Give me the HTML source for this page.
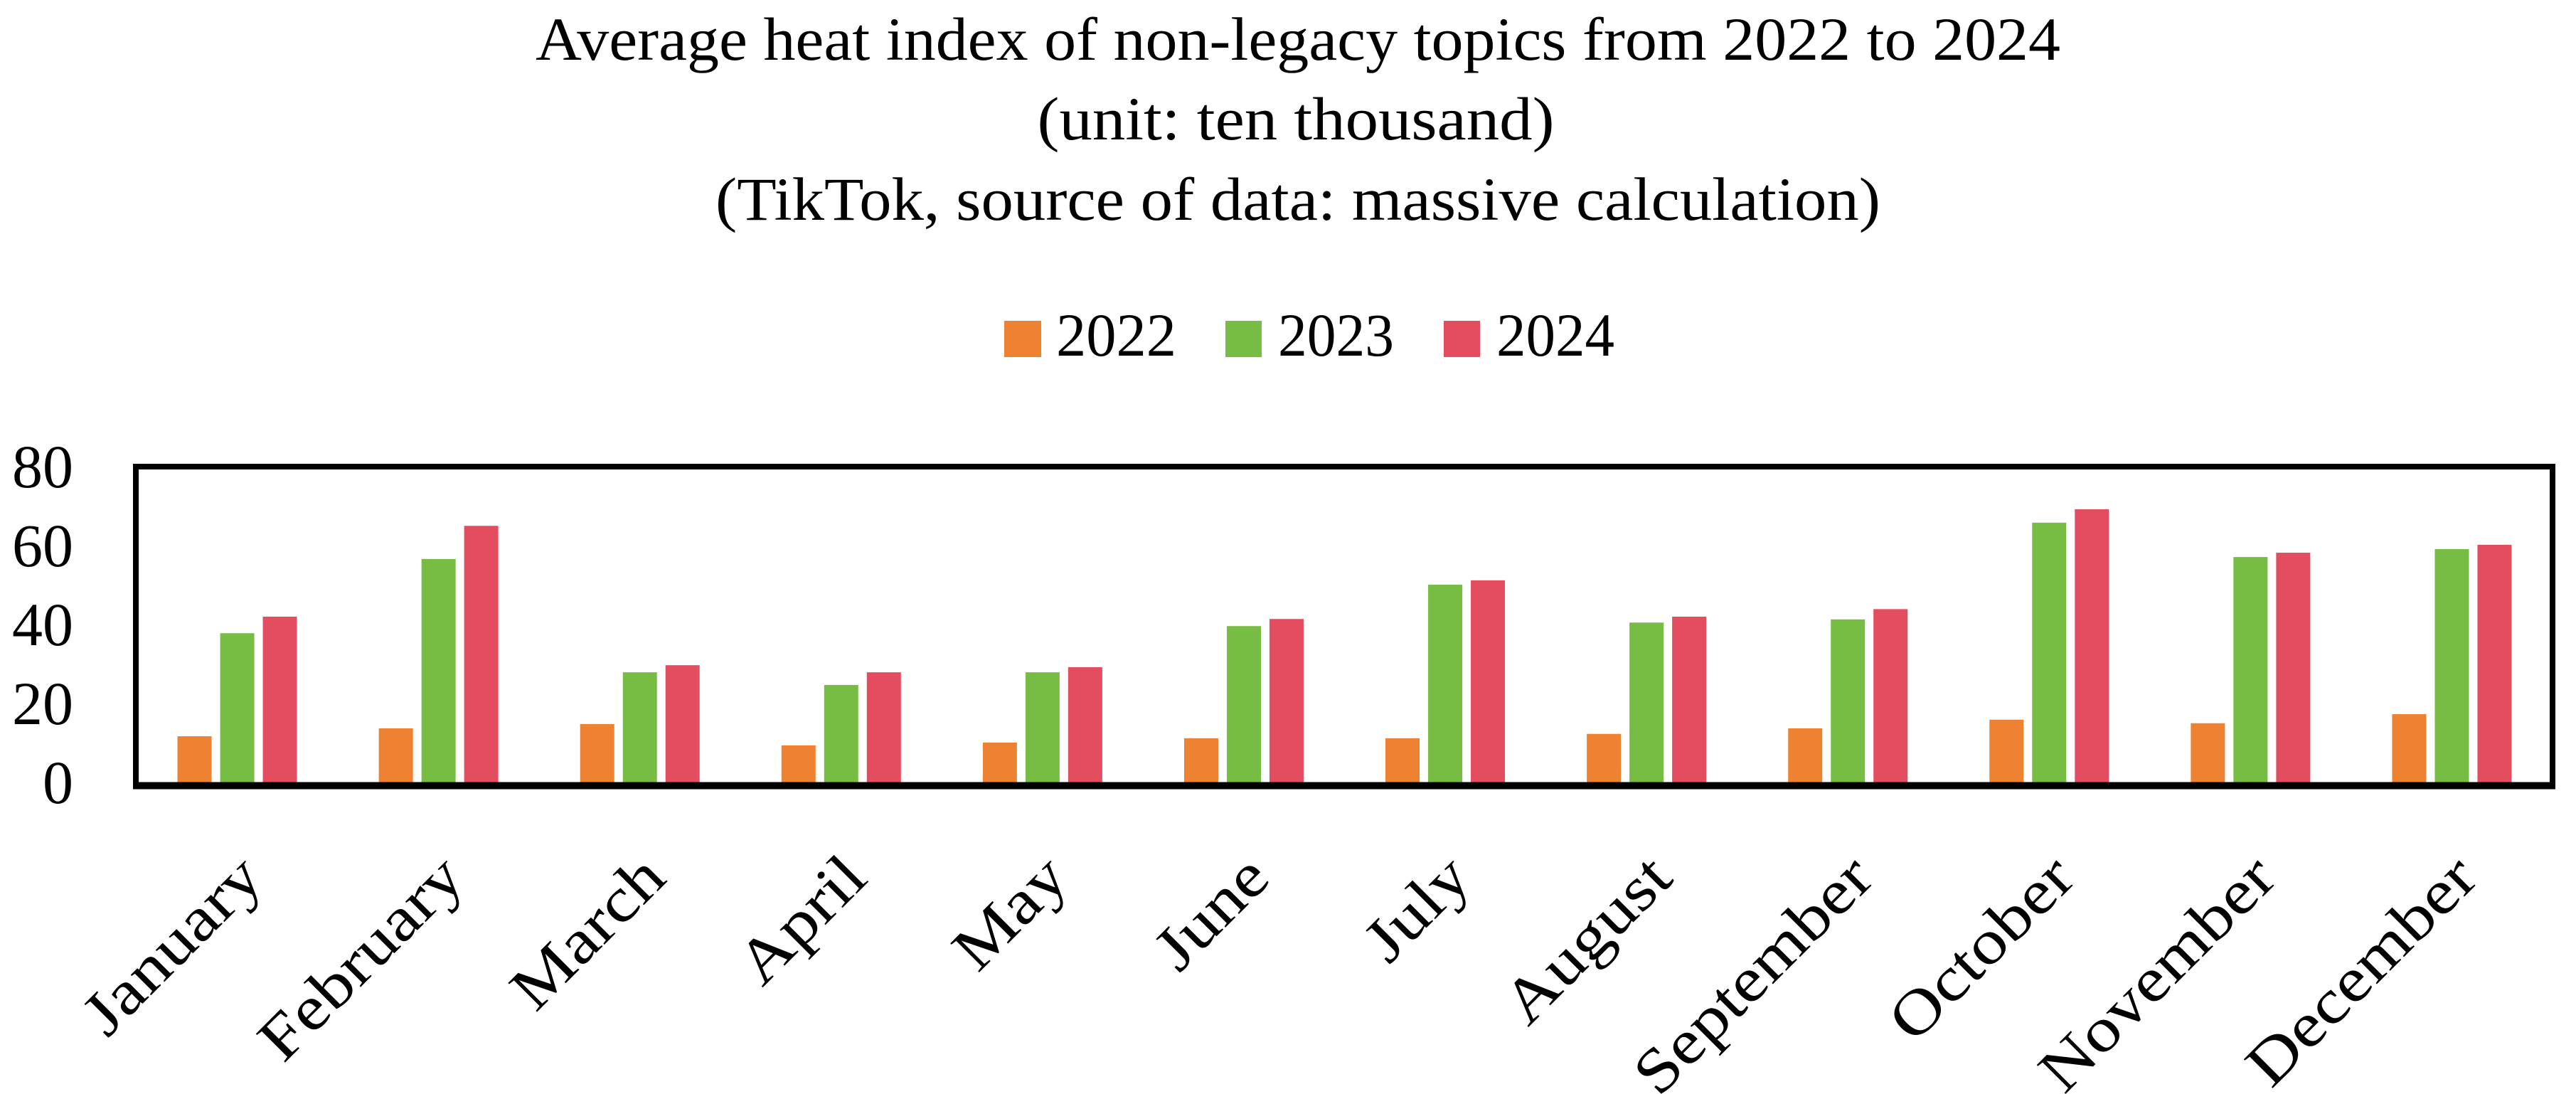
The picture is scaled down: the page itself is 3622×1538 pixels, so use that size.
<!DOCTYPE html>
<html><head><meta charset="utf-8"><style>
html,body{margin:0;padding:0;background:#fff;}
svg{display:block;}
text{font-family:"Liberation Serif",serif;fill:#000;}
</style></head><body>
<svg id="chart" width="3622" height="1538" viewBox="0 0 3622 1538" xmlns="http://www.w3.org/2000/svg">
<rect width="3622" height="1538" fill="#fff"/>
<g font-size="86" text-anchor="middle">
<text x="1825" y="84" textLength="2144" lengthAdjust="spacingAndGlyphs">Average heat index of non-legacy topics from 2022 to 2024</text>
<text x="1822" y="196" textLength="727" lengthAdjust="spacingAndGlyphs">(unit: ten thousand)</text>
<text x="1825" y="309" textLength="1638" lengthAdjust="spacingAndGlyphs">(TikTok, source of data: massive calculation)</text>
</g>
<g font-size="86">
<g><rect x="1412" y="451" width="52" height="51" fill="#ED8232"/><text x="1485" y="500" textLength="169" lengthAdjust="spacingAndGlyphs">2022</text></g>
<g><rect x="1723" y="451" width="51" height="51" fill="#77BC43"/><text x="1797" y="500" textLength="163" lengthAdjust="spacingAndGlyphs">2023</text></g>
<g><rect x="2030" y="451" width="51" height="51" fill="#E44D60"/><text x="2104" y="500" textLength="166" lengthAdjust="spacingAndGlyphs">2024</text></g>
</g>
<g id="yticks" font-size="86" text-anchor="end"></g>
<g id="bars"></g>
<rect x="191" y="656" width="3398" height="448" fill="none" stroke="#000" stroke-width="8"/>
<line x1="187" y1="1104.5" x2="3593" y2="1104.5" stroke="#000" stroke-width="10"/>
<g id="xlabels" font-size="88" text-anchor="end"></g>
</svg>
<script>
const categories = ["January","February","March","April","May","June","July","August","September","October","November","December"];
const seriesNames = ["2022","2023","2024"];
const values2022 = [11.7,13.7,14.8,9.4,10.1,11.2,11.2,12.3,13.7,15.9,15.0,17.3];
const values2023 = [37.8,56.6,27.9,24.7,27.9,39.6,50.1,40.5,41.3,65.8,57.1,59.1];
const values2024 = [42.0,65.0,29.7,27.9,29.2,41.4,51.2,42.0,43.9,69.2,58.2,60.2];
const yTicks = [0,20,40,60,80];
const colors = ["#ED8232","#77BC43","#E44D60"];

const NS = "http://www.w3.org/2000/svg";
const plotL = 192, plotR = 3589, y0px = 1100, y80px = 656;
const band = (plotR - plotL) / categories.length;
function xCenter(i){ return plotL + band*(i+0.5); }
function yScale(v){ return y0px - (v/80)*(y0px - y80px); }

const yg = document.getElementById('yticks');
yTicks.forEach(t => {
  const tx = document.createElementNS(NS,'text');
  
  
  tx.setAttribute('x', 103);
  tx.setAttribute('y', yScale(t) + 29);
  tx.textContent = t;
  yg.appendChild(tx);
});

const bg = document.getElementById('bars');
const series = [values2022, values2023, values2024];
const bw = 48, gap = 12;
series.forEach((vals, s) => {
  vals.forEach((v, i) => {
    const r = document.createElementNS(NS,'rect');
    
    
    const x = xCenter(i) + (s-1)*(bw+gap) - bw/2;
    r.setAttribute('x', x);
    r.setAttribute('y', yScale(v));
    r.setAttribute('width', bw);
    r.setAttribute('height', y0px - yScale(v));
    r.setAttribute('fill', colors[s]);
    bg.appendChild(r);
  });
});

const xg = document.getElementById('xlabels');
categories.forEach((c, i) => {
  const tx = document.createElementNS(NS,'text');
  
  
  const ax = xCenter(i) + 40, ay = 1238;
  tx.setAttribute('x', 0);
  tx.setAttribute('y', 0);
  tx.setAttribute('transform', 'translate(' + ax + ' ' + ay + ') rotate(-45) scale(1.15 1)');
  tx.textContent = c;
  xg.appendChild(tx);
});
</script>
</body></html>
